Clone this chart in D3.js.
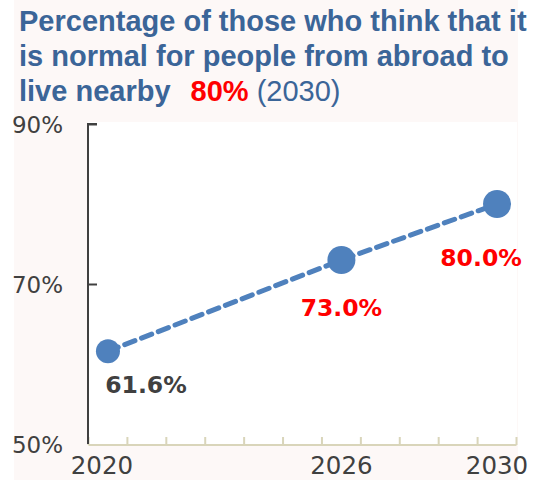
<!DOCTYPE html>
<html>
<head>
<meta charset="utf-8">
<script src="https://cdn.jsdelivr.net/npm/d3@7/dist/d3.min.js"></script>
<style>
  html, body { margin: 0; padding: 0; background: #ffffff; }
  svg { display: block; }
</style>
</head>
<body>
<script>
// ---- data ----
const years = [2020, 2021, 2022, 2023, 2024, 2025, 2026, 2027, 2028, 2029, 2030];
const pointYears = [2020, 2026, 2030];
const pointValues = [61.6, 73.0, 80.0];
const pointLabels = ["61.6%", "73.0%", "80.0%"];
const xTickLabels = [2020, 2026, 2030];
const yTickValues = [50, 70, 90];
const yTickLabels = ["50%", "70%", "90%"];
const titleLines = ["Percentage of those who think that it", "is normal for people from abroad to", "live nearby"];
const titleHighlight = "80%";
const titleSuffix = " (2030)";

// ---- layout ----
const W = 541, H = 480;
const svg = d3.select("body").append("svg").attr("width", W).attr("height", H);

svg.append("rect").attr("x", 14).attr("y", 0).attr("width", 504).attr("height", H).attr("fill", "#fdf8f7");

const plot = { left: 88, right: 517, top: 122, bottom: 444 };
svg.append("rect").attr("x", plot.left).attr("y", plot.top)
  .attr("width", plot.right - plot.left).attr("height", plot.bottom - plot.top).attr("fill", "#ffffff");

const x = d3.scaleBand().domain(years).range([88.5, 516.5]).paddingInner(0).paddingOuter(0);
const y = d3.scaleLinear().domain([50, 90]).range([444, 124]);
const cx = d => x(d) + x.bandwidth() / 2;

// title
const titleColor = "#3b6598";
const title = svg.append("text").attr("font-family", "'Liberation Sans', Arial, sans-serif")
  .attr("font-weight", "bold").attr("font-size", 29).attr("fill", titleColor);
titleLines.forEach((t, i) => {
  title.append("tspan").attr("x", 19).attr("y", 30.5 + i * 35).text(t);
});
title.append("tspan").attr("fill", "#ff0000").attr("dx", 20).text(titleHighlight);
title.append("tspan").attr("font-weight", "normal").text(titleSuffix);

// x axis (ticks between categories)
const xAxisColor = "#d9d5ba";
const bounds = years.map(d => x(d)).concat([x(years[years.length - 1]) + x.bandwidth()]);
svg.append("line").attr("x1", bounds[0]).attr("x2", bounds[bounds.length - 1])
  .attr("y1", 445).attr("y2", 445).attr("stroke", xAxisColor).attr("stroke-width", 2);
svg.selectAll(".xt").data(bounds).join("line").attr("class", "xt")
  .attr("x1", d => d).attr("x2", d => d).attr("y1", 445).attr("y2", 437)
  .attr("stroke", xAxisColor).attr("stroke-width", 2);
const xLabelShift = { 2020: -6 };
svg.selectAll(".xl").data(xTickLabels).join("text").attr("class", "xl")
  .attr("x", d => cx(d) + (xLabelShift[d] || 0)).attr("y", 474)
  .attr("text-anchor", "middle").attr("font-family", "'DejaVu Sans', sans-serif")
  .attr("font-size", 24.5).attr("fill", "#404040").text(d => d);

// y axis
const yAxis = d3.axisLeft(y).tickValues(yTickValues).tickSize(-9).tickFormat("");
const yg = svg.append("g").attr("transform", "translate(88,0)").call(yAxis);
yg.select(".domain").attr("stroke", "#404040").attr("stroke-width", 2).attr("d", `M9,${y(90)}H0V${y(50)}`);
yg.selectAll(".tick line").attr("stroke", "#404040").attr("stroke-width", 2);
yg.selectAll(".tick").filter(d => d === 50).remove();
svg.selectAll(".yl").data(yTickValues).join("text").attr("class", "yl")
  .attr("x", 63).attr("y", d => y(d) + 8.5).attr("text-anchor", "end")
  .attr("font-family", "'DejaVu Sans', sans-serif").attr("font-size", 23)
  .attr("fill", "#404040").text((d, i) => yTickLabels[i]);

// line
const pts = pointYears.map((yr, i) => ({ yr, v: pointValues[i], label: pointLabels[i], i }));
const lineColor = "#4f81bd";
svg.append("path").datum(pts)
  .attr("d", d3.line().x(d => cx(d.yr)).y(d => y(d.v)))
  .attr("fill", "none").attr("stroke", lineColor).attr("stroke-width", 5)
  .attr("stroke-dasharray", "11,7").attr("stroke-linecap", "round");
svg.selectAll(".pt").data(pts).join("circle").attr("class", "pt")
  .attr("cx", d => cx(d.yr)).attr("cy", d => y(d.v)).attr("r", d => d.i === 0 ? 12 : 14)
  .attr("fill", lineColor);

// labels
const labelOffsets = [{ dx: 38, dy: 42 }, { dx: 0, dy: 56 }, { dx: -16, dy: 62 }];
const labelColors = ["#404040", "#ff0000", "#ff0000"];
svg.selectAll(".pl").data(pts).join("text").attr("class", "pl")
  .attr("x", d => cx(d.yr) + labelOffsets[d.i].dx).attr("y", d => y(d.v) + labelOffsets[d.i].dy)
  .attr("text-anchor", "middle").attr("font-family", "'DejaVu Sans', sans-serif")
  .attr("font-weight", "bold").attr("font-size", 23.5)
  .attr("fill", d => labelColors[d.i]).text(d => d.label);
</script>
</body>
</html>
